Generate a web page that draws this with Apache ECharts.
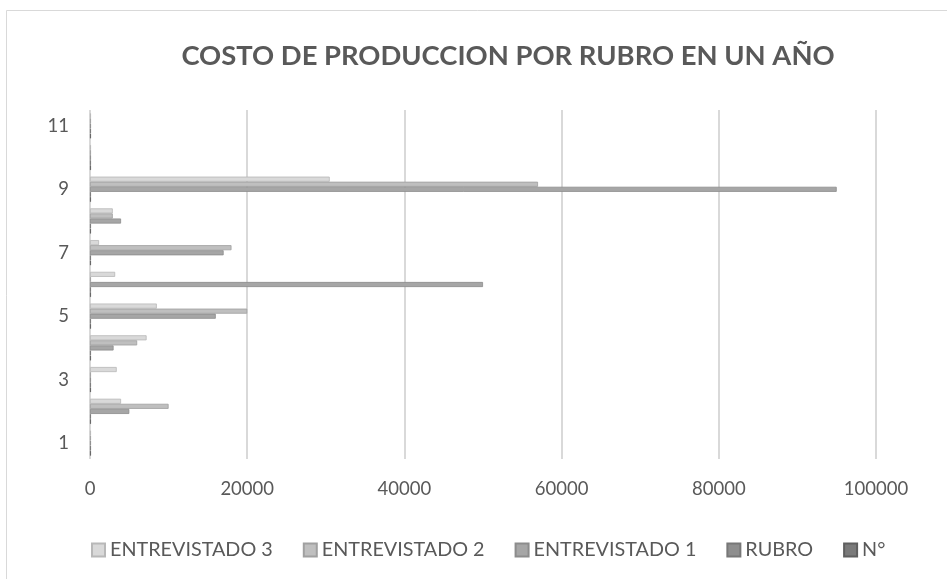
<!DOCTYPE html>
<html>
<head>
<meta charset="utf-8">
<script src="https://cdn.jsdelivr.net/npm/echarts@6/dist/echarts.min.js"></script>
<style>
html,body{margin:0;padding:0;background:#fff;}
#c{width:947px;height:579px;}
</style>
</head>
<body>
<div id="c"></div>
<script>
const categories = ['1','2','3','4','5','6','7','8','9','10','11'];
const entrevistado3 = [0, 3950, 3400, 7200, 8500, 3200, 1150, 2900, 30500, 0, 0];
const entrevistado2 = [0, 10000, 0, 6000, 20000, 0, 18000, 2900, 57000, 0, 0];
const entrevistado1 = [0, 5000, 0, 3000, 16000, 50000, 17000, 3950, 95000, 0, 0];
const rubro = [0, 0, 0, 0, 0, 0, 0, 0, 0, 0, 0];
const numero = [1, 2, 3, 4, 5, 6, 7, 8, 9, 10, 11];
const xTicks = [0, 20000, 40000, 60000, 80000, 100000];

const FONT = 'Lato';
const chart = echarts.init(document.getElementById('c'), null, {renderer: 'canvas'});

function s(name, data, color, border) {
  return {
    name: name, type: 'bar', data: data,
    barGap: '0%', barCategoryGap: '20%', barMinHeight: 1,
    itemStyle: {color: color, borderColor: border, borderWidth: 0.8},
    emphasis: {disabled: true}
  };
}

chart.setOption({
  animation: false,
  backgroundColor: '#ffffff',
  graphic: [{
    type: 'rect', shape: {x: 6.5, y: 10.5, width: 960, height: 600},
    style: {fill: 'none', stroke: '#d9d9d9', lineWidth: 1}, silent: true, z: -1
  }],
  title: {
    text: 'COSTO DE PRODUCCION POR RUBRO EN UN AÑO',
    left: 503, top: 38, textAlign: 'center',
    textStyle: {fontFamily: FONT, fontWeight: 'bold', fontSize: 27.4, color: '#595959'}
  },
  legend: {
    left: 86, top: 535, itemWidth: 13, itemHeight: 13, itemGap: 30,
    icon: 'rect',
    data: ['ENTREVISTADO 3', 'ENTREVISTADO 2', 'ENTREVISTADO 1', 'RUBRO', 'N°'],
    textStyle: {fontFamily: FONT, fontSize: 19.8, color: '#595959'}
  },
  grid: {left: 90, right: 71, top: 110, bottom: 120, containLabel: false},
  xAxis: {
    type: 'value', min: xTicks[0], max: xTicks[xTicks.length - 1], interval: xTicks[1] - xTicks[0],
    axisLine: {show: false}, axisTick: {show: false},
    splitLine: {lineStyle: {color: '#d9d9d9', width: 2}},
    axisLabel: {fontFamily: FONT, fontSize: 18.5, color: '#595959', margin: 21,
      formatter: function (v) { return String(v); }}
  },
  yAxis: {
    type: 'category', data: categories,
    axisLine: {show: false}, axisTick: {show: false},
    axisLabel: {interval: 1, fontFamily: FONT, fontSize: 18.5, color: '#595959', margin: 21}
  },
  series: [
    s('ENTREVISTADO 3', entrevistado3, '#d9d9d9', '#b8b8b8'),
    s('ENTREVISTADO 2', entrevistado2, '#bfbfbf', '#a0a0a0'),
    s('ENTREVISTADO 1', entrevistado1, '#a6a6a6', '#8c8c8c'),
    s('RUBRO', rubro, '#8e8e8e', '#777777'),
    s('N°', numero, '#7a7a7a', '#5f5f5f')
  ]
});
</script>
</body>
</html>
